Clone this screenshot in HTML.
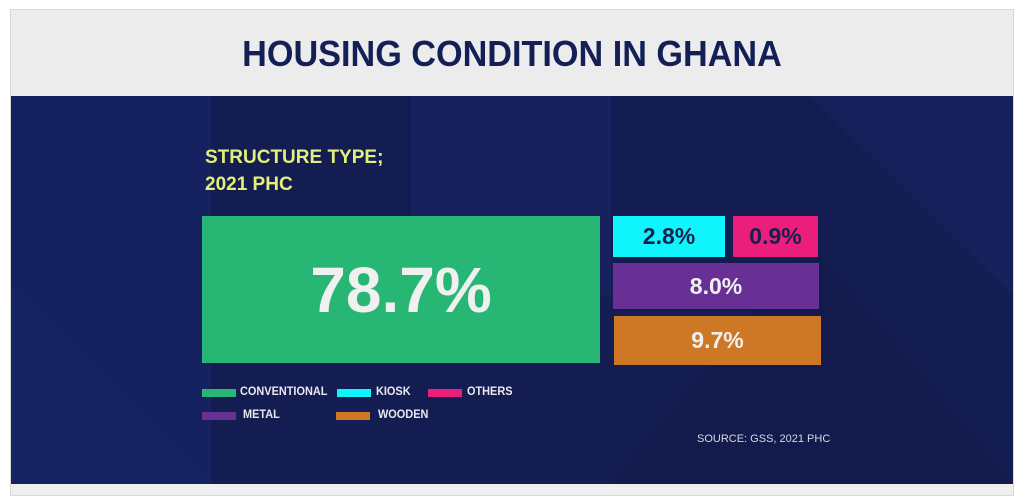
<!DOCTYPE html>
<html><head><meta charset="utf-8"><style>
html,body{margin:0;padding:0;width:1024px;height:496px;background:#fff;overflow:hidden;font-family:"Liberation Sans",sans-serif}
.card{position:absolute;left:10px;top:9px;width:1004px;height:487px;background:#efefef;border:1px solid #d8d8d8;box-sizing:border-box}
.hdr{position:absolute;left:11px;top:10px;width:1002px;height:86px;background:#ececec}
.title{position:absolute;left:0;width:1024px;top:33px;text-align:center;font-weight:bold;font-size:36px;color:#142055;transform:scaleX(0.95)}
.navy{position:absolute;left:11px;top:96px;width:1002px;height:388px;background:#141d52;overflow:hidden}
.box{position:absolute;display:flex;align-items:center;justify-content:center;font-size:23px;font-weight:bold;color:#f0f0f0}
.sw{position:absolute;width:34px;height:8px}
.lt{position:absolute;font-size:11.5px;color:#e8e8ee;font-weight:bold;transform:scaleX(0.95);transform-origin:left}
</style></head><body>
<div class="card"></div>
<div class="hdr"></div>
<div class="title">HOUSING CONDITION IN GHANA</div>
<div class="navy">
<svg width="1002" height="388" style="position:absolute;left:0;top:0">
<rect x="0" y="0" width="200" height="388" fill="#162160"/>
<rect x="400" y="0" width="200" height="200" fill="#172362" opacity="0.7"/>
<polygon points="200,388 0,190 0,388" fill="#182464" opacity="0.6"/>
<polygon points="600,388 800,150 1002,388" fill="#111a4a" opacity="0.6"/>
<polygon points="800,0 1002,0 1002,200" fill="#182464" opacity="0.6"/>
</svg>
</div>
<div style="position:absolute;left:205px;top:144px;font-size:19px;line-height:27px;color:#e2ef78;font-weight:bold">STRUCTURE TYPE;<br>2021 PHC</div>
<div id="tm"></div>
<div style="position:absolute;left:697px;top:433px;font-size:11px;color:#d8d8e0">SOURCE: GSS, 2021 PHC</div>
<script>
const categories=["CONVENTIONAL","KIOSK","OTHERS","METAL","WOODEN"];
const values=[78.7,2.8,0.9,8.0,9.7];
const colors=["#27b674","#10f4fb","#eb1e7c","#682f95","#ce7725"];
const textColors=["#f0f0f0","#16204f","#16204f","#f0f0f0","#f0f0f0"];
const tm=document.getElementById('tm');
const X0=202,Y0=216;
const bigW=Math.round(398*values[0]/78.7);
const bigH=147;
const rx=X0+bigW+13;
const rw=206;
const w1=Math.round(112*values[1]/2.8);
const w2=Math.round(85*Math.sqrt(values[2]/0.9));
const h1=41;
const h3=Math.round(46*values[3]/8.0);
const h4=Math.round(49*values[4]/9.7);
const rects=[
 [X0,Y0,bigW,bigH],
 [rx,Y0,w1,h1],
 [rx+w1+8,Y0,w2,h1],
 [rx,Y0+h1+6,rw,h3],
 [rx+1,Y0+h1+6+h3+7,rw+1,h4]
];
values.forEach((v,i)=>{
 const d=document.createElement('div');
 d.className='box';
 
 
 const r=rects[i];
 d.style.left=r[0]+'px';d.style.top=r[1]+'px';d.style.width=r[2]+'px';d.style.height=r[3]+'px';
 d.style.background=colors[i];d.style.color=textColors[i];
 if(i===0){d.style.fontSize='64px';}
 d.textContent=v.toFixed(1)+'%';
 tm.appendChild(d);
});
const leg=[[202,389,240],[337,389,376],[428,389,467],[202,412,243],[336,412,378]];
categories.forEach((c,i)=>{
 const s=document.createElement('div');s.className='sw';
 
 
 s.style.left=leg[i][0]+'px';s.style.top=leg[i][1]+'px';s.style.background=colors[i];
 tm.appendChild(s);
 const t=document.createElement('div');t.className='lt';
 
 
 t.style.left=leg[i][2]+'px';t.style.top=(leg[i][1]-3)+'px';t.textContent=c;
 tm.appendChild(t);
});
</script>
</body></html>
